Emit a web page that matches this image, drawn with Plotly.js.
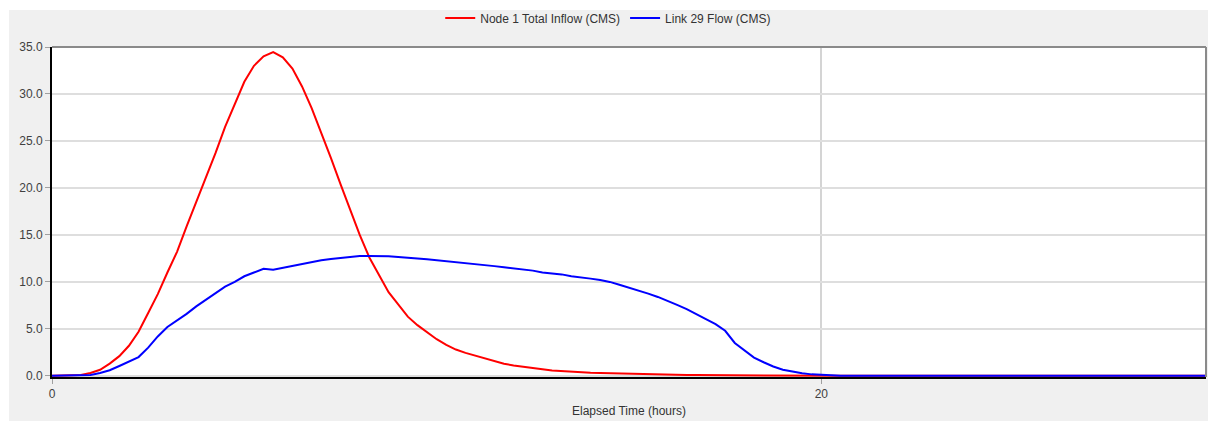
<!DOCTYPE html>
<html>
<head>
<meta charset="utf-8">
<script src="https://cdn.plot.ly/plotly-3.0.1.min.js"></script>
<style>
  html, body { margin: 0; padding: 0; background: #ffffff; }
  #chart { position: absolute; left: 9px; top: 10px; width: 1199px; height: 411px; }
</style>
</head>
<body>
<div id="chart"></div>
<script>
// Elapsed time (hours)
const timeHours = [
  0, 0.25, 0.5, 0.75, 1, 1.25, 1.5, 1.75, 2, 2.25, 2.5, 2.75, 3, 3.25, 3.5, 3.75,
  4, 4.25, 4.5, 4.75, 5, 5.25, 5.5, 5.75, 6, 6.25, 6.5, 6.75, 7, 7.25, 7.5, 7.75,
  8, 8.25, 8.5, 8.75, 9, 9.25, 9.5, 9.75, 10, 10.25, 10.5, 10.75, 11, 11.25, 11.5, 11.75,
  12, 12.25, 12.5, 12.75, 13, 13.25, 13.5, 13.75, 14, 14.25, 14.5, 14.75, 15, 15.25, 15.5, 15.75,
  16, 16.25, 16.5, 16.75, 17, 17.25, 17.5, 17.75, 18, 18.25, 18.5, 18.75, 19, 19.25, 19.5, 19.75,
  20, 20.25, 20.5, 30
];

// Node 1 Total Inflow (CMS)
const nodeInflow = [
  0, 0.05, 0.1, 0.1, 0.3, 0.65, 1.3, 2.1, 3.2, 4.7, 6.7, 8.7, 11.0, 13.2, 15.9, 18.5,
  21.0, 23.7, 26.5, 29.0, 31.3, 33.0, 34.0, 34.45, 33.9, 32.7, 30.8, 28.5, 25.9, 23.2, 20.4, 17.6,
  15.0, 12.6, 10.7, 8.9, 7.6, 6.3, 5.4, 4.6, 3.9, 3.3, 2.8, 2.45, 2.15, 1.85, 1.55, 1.3,
  1.1, 0.95, 0.82, 0.7, 0.58, 0.5, 0.44, 0.38, 0.33, 0.3, 0.27, 0.23, 0.2, 0.18, 0.16, 0.14,
  0.12, 0.1, 0.09, 0.08, 0.07, 0.06, 0.05, 0.05, 0.04, 0.04, 0.03, 0.03, 0.02, 0.02, 0.02, 0.01,
  0.01, 0, 0, 0
];

// Link 29 Flow (CMS)
const linkFlow = [
  0, 0.02, 0.03, 0.05, 0.1, 0.3, 0.6, 1.05, 1.5, 2.0, 3.0, 4.2, 5.2, 5.9, 6.6, 7.4,
  8.1, 8.8, 9.5, 10.0, 10.6, 11.0, 11.4, 11.3, 11.5, 11.75, 11.95, 12.15, 12.3, 12.45, 12.55, 12.7,
  12.75, 12.76, 12.76, 12.74, 12.65, 12.6, 12.5, 12.4, 12.3, 12.2, 12.15, 12.0, 11.9, 11.8, 11.68, 11.55,
  11.45, 11.35, 11.2, 11.0, 10.9, 10.8, 10.6, 10.5, 10.35, 10.2, 10.0, 9.7, 9.4, 9.1, 8.75, 8.4,
  8.0, 7.55, 7.1, 6.6, 6.05, 5.5, 4.8, 3.5, 2.7, 1.95, 1.45, 1.0, 0.65, 0.42, 0.27, 0.16,
  0.08, 0.03, 0, 0
];

const seriesNames = ["Node 1 Total Inflow (CMS)", "Link 29 Flow (CMS)"];
const xTickVals = [0, 20];
const xTickText = ["0", "20"];
const yTickVals = [0, 5, 10, 15, 20, 25, 30, 35];
const yTickText = ["0.0", "5.0", "10.0", "15.0", "20.0", "25.0", "30.0", "35.0"];

const FONT = "'Liberation Sans', Arial, sans-serif";

const traces = [
  { x: timeHours, y: nodeInflow, name: seriesNames[0], type: "scatter", mode: "lines",
    line: { color: "#ff0000", width: 2 } },
  { x: timeHours, y: linkFlow, name: seriesNames[1], type: "scatter", mode: "lines",
    line: { color: "#0000ff", width: 2 } }
];

const layout = {
  width: 1199, height: 411,
  paper_bgcolor: "#f0f0f0",
  plot_bgcolor: "#ffffff",
  margin: { l: 43, r: 2, t: 37, b: 44, pad: 0, autoexpand: false },
  font: { family: FONT, size: 12, color: "#404040" },
  showlegend: true,
  legend: {
    orientation: "h", x: 0.482, xanchor: "center", y: 1.088, yanchor: "middle",
    yref: "paper", font: { family: FONT, size: 12, color: "#333333" },
    bgcolor: "rgba(0,0,0,0)", itemwidth: 30, tracegroupgap: 0
  },
  xaxis: {
    range: [0, 30], tickmode: "array", tickvals: xTickVals, ticktext: xTickText,
    showgrid: true, gridcolor: "#d4d4d4", gridwidth: 2,
    zeroline: false, showline: true, linecolor: "#000000", linewidth: 2,
    ticks: "outside", ticklen: 5, tickcolor: "#a0a0a0", tickwidth: 1,
    tickfont: { family: FONT, size: 12, color: "#404040" },
    title: { text: "Elapsed Time (hours)", font: { family: FONT, size: 12, color: "#333333" }, standoff: 6 },
    fixedrange: true
  },
  yaxis: {
    range: [-0.12, 35], tickmode: "array", tickvals: yTickVals, ticktext: yTickText,
    showgrid: true, gridcolor: "#dedede", gridwidth: 2,
    zeroline: false, showline: true, linecolor: "#000000", linewidth: 2,
    ticks: "outside", ticklen: 5, tickcolor: "#a0a0a0", tickwidth: 1,
    tickfont: { family: FONT, size: 12, color: "#404040" },
    fixedrange: true
  },
  shapes: [
    { type: "line", xref: "paper", yref: "paper", x0: 0, x1: 1, y0: 1, y1: 1,
      line: { color: "#8a8a8a", width: 2 } },
    { type: "line", xref: "paper", yref: "paper", x0: 1, x1: 1, y0: 0, y1: 1,
      line: { color: "#8a8a8a", width: 2 } }
  ]
};

Plotly.newPlot("chart", traces, layout, { displayModeBar: false, staticPlot: true });
</script>
</body>
</html>
